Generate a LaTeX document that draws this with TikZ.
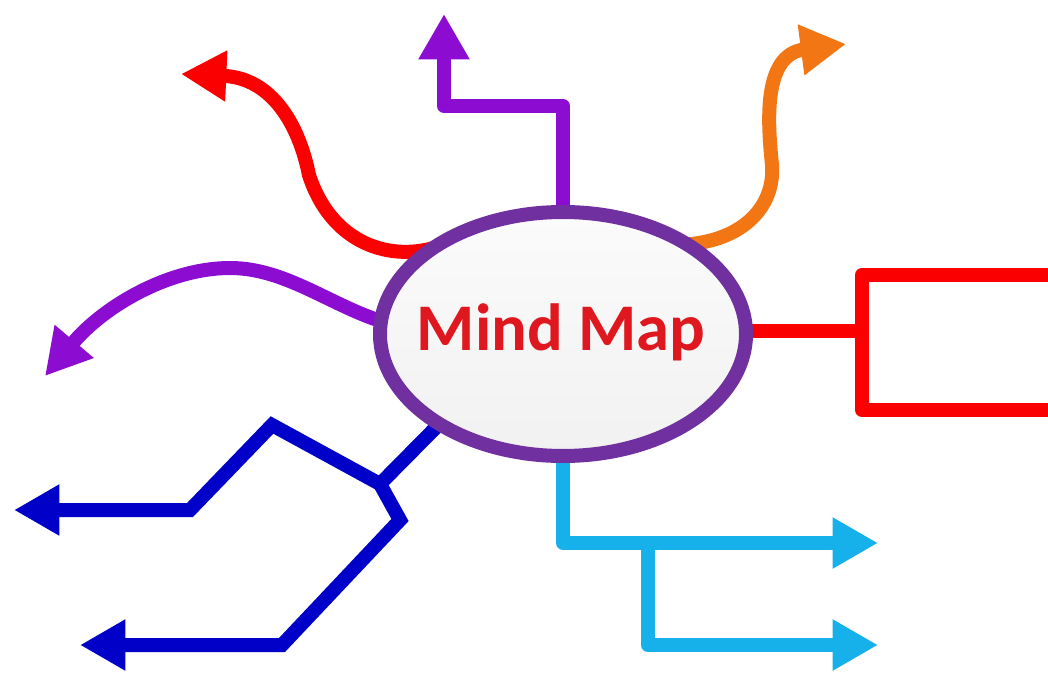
\documentclass[tikz,border=0pt]{standalone}
\usepackage{fontspec}
\setmainfont{Carlito}
\usetikzlibrary{arrows.meta,shapes.geometric,calc,backgrounds}
\definecolor{ringpurple}{RGB}{112,48,160}
\definecolor{violetb}{RGB}{140,12,210}
\definecolor{redb}{RGB}{250,0,0}
\definecolor{orangeb}{RGB}{242,118,20}
\definecolor{blueb}{RGB}{0,0,200}
\definecolor{cyanb}{RGB}{22,176,234}
\definecolor{titlered}{RGB}{222,24,30}
\begin{document}
\begin{tikzpicture}[x=0.75pt,y=-0.75pt,
  branch/.style={line width=10.5pt,line join=round},
  arrowed/.style={-{Triangle[length=34pt,width=36pt]}},
  twoarrowed/.style={{Triangle[length=34pt,width=36pt]}-{Triangle[length=34pt,width=36pt]}}]
\useasboundingbox (0,0) rectangle (1048,673);
% central node
\node[ellipse, draw=ringpurple, line width=10.5pt, minimum width=274.5pt,
      minimum height=183pt, inner sep=0pt, top color=gray!3, bottom color=gray!11] (mm) at (563,334) {};
\node[anchor=base, font=\bfseries\fontsize{50}{50}\selectfont, text=titlered] (title) at (561,350) {Mind Map};
% end points
\coordinate (tTop) at (444,14);
\coordinate (tRed) at (181,74);
\coordinate (tOra) at (846,44);
\coordinate (tVio) at (45,376);
\coordinate (jB) at (380,484);
\coordinate (tB1) at (14,510);
\coordinate (tB2) at (80,645);
\coordinate (cA) at (563,543);
\coordinate (cB) at (648,543);
\coordinate (tC1) at (878,543);
\coordinate (tC2) at (878,645);
\coordinate (jR) at (862,331);
\coordinate (rS) at ([xshift=-6pt]mm.east);
\coordinate (rT) at (1048,275);
\coordinate (rB) at (1048,410);
\begin{pgfonlayer}{background}
\fill[white] (0,0) rectangle (1048,673);
% top violet
\draw[branch,violetb,arrowed] ([yshift=-6pt]mm.north) -- (563,106) -- (444,106) -- (tTop);
% red upper-left
\draw[branch,redb,arrowed] ($(mm.center)!0.95!(mm.146)$) .. controls (385,262) and (330,240) .. (309,175)
   .. controls (299,125) and (272,78) .. (tRed);
% orange upper-right
\draw[branch,orangeb,arrowed] ($(mm.center)!0.95!(mm.36)$) .. controls (745,240) and (775,205) .. (772,165)
   .. controls (768,125) and (762,55) .. (tOra);
% left violet
\draw[branch,violetb,arrowed] ($(mm.center)!0.96!(mm.176)$) .. controls (330,305) and (285,268) .. (230,268)
   .. controls (170,268) and (105,305) .. (tVio);
% blue lower-left
\draw[branch,blueb,line join=miter] ($(mm.center)!0.95!(mm.216)$) -- (jB);
\draw[branch,blueb,line join=miter,twoarrowed] (tB1) -- (190,510) -- (272,425) -- (jB) -- (400,520) -- (282,645) -- (tB2);
% cyan lower-right
\draw[branch,cyanb,arrowed] ([yshift=6pt]mm.south) -- (cA) -- (tC1);
\draw[branch,cyanb,arrowed] (cB) -- (648,645) -- (tC2);
% red right
\draw[branch,redb] (rS |- jR) -- (jR);
\draw[branch,redb] (rT) -- (862,275) -- (862,410) -- (rB);
\end{pgfonlayer}
\end{tikzpicture}
\end{document}
